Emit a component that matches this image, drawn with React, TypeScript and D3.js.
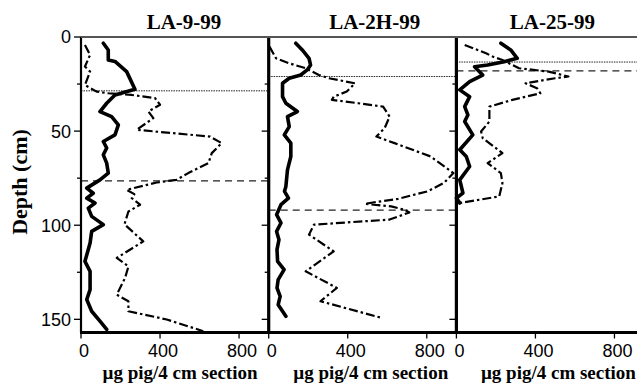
import React from 'react'
import * as d3 from 'd3'

// core names, in panel order
const cores = ['LA-9-99', 'LA-2H-99', 'LA-25-99']
const xTicks = [0, 400, 800]
const depthTicks = [0, 50, 100, 150]
const minorDepthTicks = [25, 75, 125]

// horizontal marker depths (cm) per core
const dottedDepths = [28.6, 21, 13.3]
const dashedDepths = [76.4, 92, 18]

// [depth cm, ug pig]
const la9Solid = [[3.3,113],[6.9,138],[12.2,138],[13,172],[18.4,231],[27.8,273],[30.8,172],[35.2,130],[39.6,96],[42.3,155],[46.7,189],[52,172],[55.5,113],[59,130],[62.6,113],[67,130],[72.3,138],[75.9,96],[80.3,29],[83,62],[85.6,29],[88.2,71],[90.9,37],[95.3,54],[99.7,113],[103.3,54],[109.5,46],[119.2,20],[124.5,46],[134.2,46],[139.5,29],[145.7,54],[151,96],[155.4,130]]
const la9Dash = [[4.2,20],[9.5,46],[15.7,20],[18.4,46],[25.5,20],[29,79],[29.9,138],[30.8,257],[32.5,375],[36,400],[39.6,341],[43.1,366],[49.3,282],[51.1,467],[52.9,653],[56.4,712],[61.7,662],[67,645],[72.3,543],[75.9,484],[77.3,383],[81.2,231],[83.5,270],[85.6,257],[89.1,299],[92.7,240],[99.5,220],[108.6,315],[117.4,181],[121.9,240],[128,223],[136.9,181],[140.4,240],[145.7,240],[150.1,434],[156.3,619]]

const la2Solid = [[3.3,137],[6.9,170],[11.3,204],[14.9,212],[17.5,195],[20.2,162],[21.9,104],[24.6,70],[31.7,70],[35.2,87],[39.6,145],[42.3,95],[47.6,104],[52,79],[56.4,112],[63.5,112],[70.6,95],[79.4,87],[82,80],[85.6,100],[89.1,62],[94.4,40],[98.8,62],[103.3,40],[107.7,52],[113,42],[119.2,45],[123.6,78],[128.9,48],[133.3,42],[137.8,58],[142.2,48],[148.4,87]]
const la2Dash = [[5.1,4],[11.3,37],[14,104],[16.6,187],[20.2,254],[21.9,304],[24.6,437],[29,395],[31.7,329],[33.4,320],[35.2,454],[37,579],[42.3,612],[48.4,587],[52.9,545],[56.4,637],[63.5,820],[72.3,935],[77.5,887],[82,804],[86,654],[88.6,487],[90,620],[91.8,687],[93.2,712],[97,612],[99.7,229],[105,204],[113.9,329],[124.5,187],[133.3,345],[140.4,262],[149.2,570]]

const la25Solid = [[3.3,225],[6.9,275],[11.3,308],[13.1,242],[14.9,158],[15.8,92],[20.2,133],[23.7,67],[28.1,17],[31.7,67],[37,42],[41.4,58],[44.9,42],[52,83],[59.9,17],[63.5,50],[68.8,67],[75.9,17],[82.9,33],[85.6,0],[88.2,17]]
const la25Dash = [[4.2,42],[8.6,150],[10.4,183],[12.2,233],[16.6,317],[18.4,467],[21,567],[21.9,500],[24.6,350],[27.2,408],[29.9,425],[33.4,283],[37,167],[44.9,167],[50.2,125],[53.7,133],[61.7,233],[67,158],[72.3,225],[77.6,233],[84.7,217],[88.2,17]]

const solidSeries = [la9Solid, la2Solid, la25Solid]
const dashSeries = [la9Dash, la2Dash, la25Dash]

const width = 637
const height = 385
const top = 37
const bottom = 332.5
const firstLeft = 81
const panelW = 187.7
const titleOffset = [103, 106, 96]
const labelOffset = [99, 102, 102]

const serif = '"Liberation Serif", "Times New Roman", serif'
const sans = '"Liberation Sans", Arial, sans-serif'

export default function App() {
  const y = d3.scaleLinear().domain([0, 157]).range([top, bottom])

  const panels = cores.map((name, i) => {
    const left = firstLeft + i * panelW
    const x = d3.scaleLinear().domain([0, 950]).range([left, left + panelW])
    const line = d3.line<number[]>().x(d => x(d[1])).y(d => y(d[0]))
    return (
      <g key={name}>
        <line x1={left} x2={left + panelW} y1={y(dottedDepths[i])} y2={y(dottedDepths[i])}
          stroke="#222" strokeWidth={1} strokeDasharray="1.5,1" />
        <line x1={left} x2={left + panelW} y1={y(dashedDepths[i])} y2={y(dashedDepths[i])}
          stroke="#222" strokeWidth={1.2} strokeDasharray="7,5" />
        <path d={line(dashSeries[i]) || ''} fill="none" stroke="#000" strokeWidth={2.2}
          strokeDasharray="9,3,2.5,3" strokeLinejoin="round" />
        <path d={line(solidSeries[i]) || ''} fill="none" stroke="#000" strokeWidth={3.6}
          strokeLinejoin="round" strokeLinecap="round" />
        {/* left axis */}
        <line x1={left} x2={left} y1={top} y2={bottom} stroke="#000" strokeWidth={i === 0 ? 2.2 : 3.2} />
        {depthTicks.map(t => (
          <line key={'M' + t} x1={left - 7} x2={left} y1={y(t)} y2={y(t)} stroke="#000" strokeWidth={1.3} />
        ))}
        {minorDepthTicks.map(t => (
          <line key={'m' + t} x1={left - 4} x2={left} y1={y(t)} y2={y(t)} stroke="#000" strokeWidth={1.3} />
        ))}
        {xTicks.map(t => (
          <g key={'x' + t}>
            <line x1={x(t)} x2={x(t)} y1={bottom} y2={bottom + 6} stroke="#000" strokeWidth={1.3} />
            <text x={x(t) + 3} y={356.5} textAnchor="middle" fontFamily={sans} fontSize={18}>{t}</text>
          </g>
        ))}
        <text x={left + titleOffset[i]} y={28.5} textAnchor="middle" fontFamily={serif}
          fontWeight="bold" fontSize={21}>{name}</text>
        <text x={left + labelOffset[i]} y={378.5} textAnchor="middle" fontFamily={serif}
          fontWeight="bold" fontSize={19}>µg pig/4 cm section</text>
      </g>
    )
  })

  return (
    <div style={{ position: 'absolute', left: 0, top: 0 }}>
      <svg width={width} height={height} style={{ display: 'block', background: '#fff' }}>
        {panels}
        {/* top border and bottom axis */}
        <line x1={firstLeft} x2={width} y1={top} y2={top} stroke="#555" strokeWidth={2} />
        <line x1={firstLeft - 1} x2={width} y1={bottom} y2={bottom} stroke="#000" strokeWidth={3} />
        {depthTicks.map(t => (
          <text key={t} x={71} y={y(t)} dy="0.36em" textAnchor="end" fontFamily={sans} fontSize={18}>{t}</text>
        ))}
        <text transform="translate(19,182) rotate(-90)" textAnchor="middle" dy="0.35em"
          fontFamily={serif} fontWeight="bold" fontSize={22}>Depth (cm)</text>
      </svg>
    </div>
  )
}
